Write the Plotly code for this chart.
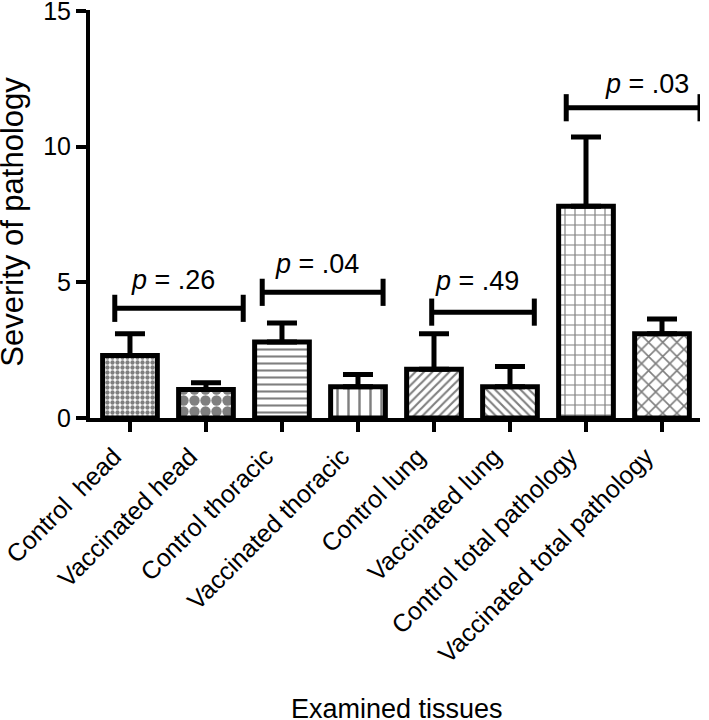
import plotly.graph_objects as go

categories = ["Control  head", "Vaccinated head", "Control thoracic", "Vaccinated thoracic",
              "Control lung", "Vaccinated lung", "Control total pathology", "Vaccinated total pathology"]
means = [2.3, 1.05, 2.8, 1.15, 1.8, 1.15, 7.8, 3.1]
errors = [0.8, 0.25, 0.7, 0.45, 1.3, 0.75, 2.55, 0.55]

# comparison brackets (data units)
bracket_x0 = [-0.2, 1.74, 3.97, 5.74]
bracket_x1 = [1.49, 3.33, 5.32, 7.5]
bracket_y = [4.04, 4.63, 3.9, 11.43]
p_labels = [".26", ".04", ".49", ".03"]
p_text_x = [0.57, 2.46, 4.57, 6.8]
p_text_y = [5.1, 5.66, 5.04, 12.3]

yticks = [0, 5, 10, 15]

pattern_shapes = [".", ".", "-", "|", "/", "\\", "+", "x"]
pattern_sizes = [5, 11, 7, 11, 6, 6, 10, 10]
pattern_solid = [0.6, 0.7, 0.3, 0.22, 0.35, 0.35, 0.22, 0.3]

FONT = "Arial, Liberation Sans, Helvetica, sans-serif"
idx = list(range(len(categories)))

fig = go.Figure()
fig.add_trace(go.Bar(
    x=idx, y=means, width=0.72,
    marker=dict(color="white", line=dict(color="black", width=5),
                pattern=dict(shape=pattern_shapes, size=pattern_sizes, solidity=pattern_solid,
                             fgcolor="black", bgcolor="white", fillmode="overlay")),
    error_y=dict(type="data", symmetric=False, array=errors, arrayminus=[0] * len(errors),
                 color="black", thickness=5, width=15),
    showlegend=False,
))

shapes = []
annotations = []
for x0, x1, y, lab, tx, ty in zip(bracket_x0, bracket_x1, bracket_y, p_labels, p_text_x, p_text_y):
    shapes.append(dict(type="line", xref="x", yref="y", x0=x0, x1=x1, y0=y, y1=y,
                       line=dict(color="black", width=5)))
    for xe in (x0, x1):
        shapes.append(dict(type="line", xref="x", yref="y", x0=xe, x1=xe, y0=y - 0.5, y1=y + 0.5,
                           line=dict(color="black", width=5)))
    annotations.append(dict(x=tx, y=ty, xref="x", yref="y", text="<i>p</i> = " + lab,
                            showarrow=False, font=dict(size=27, color="black", family=FONT)))

annotations.append(dict(x=0.503, y=-0.713, xref="paper", yref="paper", text="Examined tissues",
                        showarrow=False, xanchor="center", yanchor="middle",
                        font=dict(size=27, color="black", family=FONT)))
annotations.append(dict(x=-0.127, y=0.48, xref="paper", yref="paper", text="Severity of pathology",
                        showarrow=False, textangle=-90, xanchor="center", yanchor="middle",
                        font=dict(size=31, color="black", family=FONT)))

fig.update_layout(
    width=709, height=720,
    margin=dict(l=90, r=9, t=10, b=302),
    plot_bgcolor="white", paper_bgcolor="white",
    font=dict(family=FONT, color="black", size=25),
    shapes=shapes, annotations=annotations,
    xaxis=dict(range=[-0.526, 7.5], tickmode="array", tickvals=idx, ticktext=categories,
               tickangle=-45, ticks="outside", ticklen=10, tickwidth=4, tickcolor="black",
               showline=True, linecolor="black", linewidth=4, showgrid=False, zeroline=False,
               automargin=False, ticklabelshift=-16,
               tickfont=dict(size=25, family=FONT, color="black")),
    yaxis=dict(range=[0, 15.03], tickmode="array", tickvals=yticks, ticks="outside", ticklen=10,
               tickwidth=4, tickcolor="black", showline=True, linecolor="black", linewidth=4,
               showgrid=False, zeroline=False, automargin=False, ticklabeloverflow="allow",
               tickfont=dict(size=25, family=FONT, color="black")),
)

fig.write_html("out.html", config={"displayModeBar": False},
               post_script="document.body.style.margin='0';")
